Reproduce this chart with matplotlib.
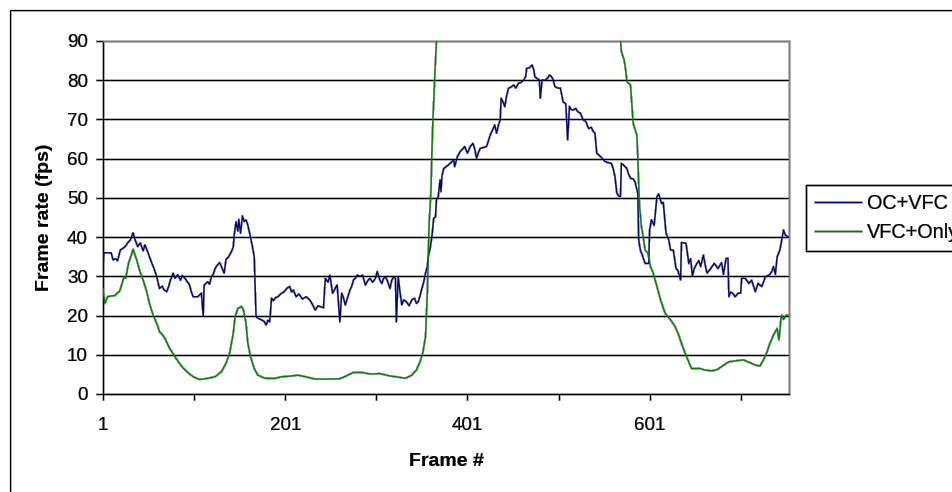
import numpy as np
import matplotlib
matplotlib.use("Agg")
import matplotlib.pyplot as plt
from matplotlib.patches import Rectangle

plt.rcParams['font.family'] = ['Liberation Sans', 'DejaVu Sans']

# ---------------- data ----------------
oc_frames = [1, 2, 10, 12, 15, 17, 20, 25, 28, 31, 34, 36, 39, 42, 45, 47, 50, 52, 54, 57, 60, 63, 66, 68, 71, 73, 75, 78,
             80, 83, 86, 88, 91, 94, 96, 98, 100, 105, 109, 111, 112, 116, 118, 120, 122, 124, 127, 129, 131, 134, 136,
             139, 142, 144, 145, 147, 149, 150, 152, 154, 156, 158, 160, 162, 165, 167, 169, 172, 175, 178, 180, 182,
             184, 186, 188, 190, 193, 196, 200, 203, 206, 208, 210, 213, 216, 220, 224, 228, 231, 234, 237, 239, 243,
             245, 248, 250, 253, 256, 258, 261, 263, 265, 267, 270, 272, 274, 276, 278, 280, 283, 286, 289, 292, 294,
             297, 300, 302, 305, 307, 309, 311, 313, 316, 318, 320, 322, 323, 325, 327, 329, 331, 334, 337, 340, 343,
             345, 347, 349, 351, 353, 355, 357, 358, 360, 362, 364, 366, 367, 369, 371, 372, 373, 375, 378, 380, 383,
             386, 387, 390, 393, 396, 398, 400, 401, 404, 407, 409, 411, 413, 415, 418, 422, 424, 426, 429, 431, 433,
             435, 437, 438, 440, 442, 444, 446, 449, 452, 454, 457, 460, 463, 465, 466, 469, 472, 474, 475, 478, 480,
             481, 483, 486, 489, 491, 493, 495, 497, 500, 503, 506, 509, 511, 513, 515, 517, 520, 522, 525, 528, 531,
             534, 537, 539, 541, 543, 546, 549, 552, 555, 559, 561, 563, 565, 567, 569, 570, 573, 576, 578, 580, 583,
             585, 588, 589, 591, 593, 596, 600, 601, 603, 606, 609, 611, 614, 616, 619, 622, 624, 627, 630, 632, 635,
             636, 641, 644, 646, 648, 650, 653, 655, 657, 660, 662, 664, 668, 672, 676, 680, 682, 685, 687, 688, 690,
             692, 695, 698, 701, 702, 706, 710, 713, 717, 720, 724, 726, 728, 731, 733, 735, 737, 739, 741, 744, 746,
             748, 750, 753]
oc_fps = [31.6, 36.0, 36.0, 34.2, 34.5, 34.0, 36.7, 37.5, 38.5, 39.3, 41.1, 39.5, 37.6, 38.5, 36.5, 38.0, 36.3, 35.0,
          33.7, 32.0, 29.9, 26.9, 27.5, 26.5, 26.1, 27.4, 29.0, 30.8, 29.5, 30.4, 29.0, 30.2, 29.5, 28.5, 27.8, 26.0,
          24.8, 24.8, 25.7, 19.9, 27.8, 28.6, 28.0, 29.9, 30.5, 32.0, 33.0, 33.5, 32.5, 30.8, 34.3, 35.0, 36.3, 37.5,
          40.5, 43.9, 41.5, 44.5, 41.0, 45.4, 44.0, 44.4, 43.0, 41.0, 37.6, 35.0, 19.7, 19.2, 18.9, 18.5, 17.6, 18.8,
          18.4, 24.4, 23.8, 24.5, 24.8, 25.5, 26.1, 27.0, 27.4, 26.0, 26.5, 24.8, 25.5, 24.2, 24.8, 24.0, 22.8, 21.4,
          22.5, 22.3, 22.0, 29.5, 28.5, 30.3, 25.7, 27.0, 27.8, 18.4, 25.7, 24.5, 22.7, 25.0, 26.5, 27.5, 29.1, 29.5,
          30.3, 30.0, 30.3, 27.8, 29.0, 29.5, 28.5, 29.5, 31.2, 29.0, 28.2, 29.5, 29.9, 29.0, 26.9, 29.0, 29.9, 29.5,
          18.4, 29.9, 26.0, 22.7, 24.0, 23.5, 22.5, 24.0, 24.4, 23.1, 23.5, 25.0, 26.9, 28.5, 30.8, 32.5, 35.0, 37.0,
          40.1, 44.8, 45.2, 49.5, 50.3, 54.6, 51.6, 55.5, 57.5, 58.0, 58.4, 59.0, 59.7, 58.0, 60.5, 61.8, 62.5, 63.1,
          62.0, 61.4, 63.0, 63.9, 62.5, 60.1, 61.5, 62.6, 62.8, 63.1, 64.5, 66.0, 67.5, 68.6, 66.5, 68.5, 69.9, 75.4,
          74.5, 73.3, 76.0, 77.9, 78.3, 78.8, 78.0, 79.2, 79.5, 80.1, 81.0, 83.0, 83.2, 83.9, 82.5, 80.9, 80.3, 80.1,
          75.4, 80.1, 80.0, 80.5, 81.3, 81.0, 80.2, 78.4, 78.0, 78.0, 74.5, 74.0, 64.8, 73.3, 72.5, 72.4, 72.8, 72.0,
          71.6, 69.9, 69.5, 67.7, 68.0, 67.0, 66.5, 61.4, 60.8, 60.1, 59.3, 59.0, 58.8, 57.5, 55.4, 51.2, 50.5, 50.3,
          58.8, 58.2, 57.5, 56.0, 55.0, 54.8, 54.1, 51.2, 39.3, 36.5, 35.4, 33.3, 33.3, 41.8, 44.4, 43.0, 50.3, 51.0,
          48.6, 48.8, 41.0, 39.3, 36.7, 36.7, 32.0, 31.5, 29.1, 38.6, 38.4, 33.3, 34.5, 30.1, 32.0, 33.3, 34.0, 32.5,
          35.4, 33.0, 30.8, 32.0, 33.3, 32.0, 33.5, 30.5, 34.6, 34.6, 24.8, 26.0, 25.7, 24.8, 25.7, 25.7, 29.5, 29.5,
          28.2, 29.0, 26.1, 28.2, 27.4, 28.5, 29.9, 30.2, 30.5, 31.2, 32.5, 30.5, 35.0, 36.7, 39.3, 41.8, 40.5, 40.1]

vfc_frames = [1, 3, 6, 10, 14, 17, 19, 21, 24, 26, 29, 32, 34, 36, 38, 41, 45, 49, 52, 56, 60, 63, 66, 69, 74, 80, 85,
              89, 93, 100, 107, 116, 124, 131, 136, 140, 142, 144, 146, 149, 153, 155, 158, 160, 163, 167, 171, 179,
              190, 197, 208, 215, 225, 234, 250, 261, 268, 276, 285, 294, 305, 316, 325, 333, 340, 345, 349, 352, 355,
              357, 358, 359, 361, 362, 363, 365, 367, 369, 567, 569, 570, 573, 575, 576, 580, 581, 583, 587, 588, 589,
              590, 592, 594, 596, 599, 602, 605, 609, 613, 618, 624, 629, 633, 636, 640, 644, 647, 656, 662, 669, 675,
              680, 688, 697, 704, 711, 717, 722, 726, 730, 733, 737, 741, 743, 745, 746, 748, 751, 753]
vfc_fps = [26.9, 23.1, 24.8, 25.0, 25.1, 25.8, 26.1, 27.4, 29.9, 29.5, 33.3, 35.4, 36.9, 35.5, 34.2, 31.6, 29.1, 26.1,
           23.1, 20.1, 18.0, 15.9, 15.2, 14.2, 11.7, 9.5, 7.8, 6.6, 5.7, 4.4, 3.7, 4.0, 4.4, 5.7, 7.8, 10.4, 12.9, 15.5,
           19.7, 21.8, 22.3, 21.5, 18.0, 12.9, 9.5, 6.5, 4.8, 4.0, 4.0, 4.4, 4.6, 4.8, 4.3, 3.8, 3.8, 3.9, 4.6, 5.5, 5.5,
           5.1, 5.2, 4.6, 4.3, 4.0, 4.8, 6.1, 8.2, 10.4, 14.6, 25.7, 35.0, 43.5, 52.0, 61.4, 69.0, 80.1, 90.3, 100.0,
           100.0, 90.3, 87.3, 85.2, 82.2, 79.6, 78.8, 75.4, 69.0, 66.0, 60.5, 53.7, 47.8, 42.7, 40.1, 36.7, 36.0, 32.5,
           30.8, 27.4, 24.0, 20.6, 18.9, 17.2, 15.0, 12.9, 10.4, 8.2, 6.5, 6.5, 6.1, 5.9, 6.2, 7.0, 8.2, 8.5, 8.7, 8.0,
           7.4, 7.1, 8.7, 10.8, 12.9, 15.0, 16.7, 13.8, 18.9, 20.1, 19.0, 20.1, 20.1]

series_names = ["OC+VFC", "VFC+Only"]
y_ticks = [0, 10, 20, 30, 40, 50, 60, 70, 80, 90]
x_ticks = [1, 101, 201, 301, 401, 501, 601, 701]
x_tick_labels = ["1", "", "201", "", "401", "", "601", ""]

# ---------------- figure ----------------
W, H = 953, 492
DPI = 100
BG = "#C0C0C0"
fig = plt.figure(figsize=(W / DPI, H / DPI), dpi=DPI, facecolor="white")

# chart-area border / background (drawn beneath the axes)
fig.patches.append(Rectangle((10 / W, -0.1), 1.2, 1 - 10 / H + 0.1, transform=fig.transFigure,
                             facecolor=BG, edgecolor="black", linewidth=0.9, zorder=-5))

ax = fig.add_axes([103 / W, 1 - 394 / H, 686 / W, 353 / H])
ax.set_facecolor(BG)

ax.plot(oc_frames, oc_fps, color="#000080", linewidth=1.0, label=series_names[0], zorder=3)
ax.plot(vfc_frames, vfc_fps, color="#008000", linewidth=1.0, label=series_names[1], zorder=3)

ax.set_xlim(1, 754)
ax.set_ylim(0, 90)
ax.set_yticks(y_ticks)
ax.set_yticklabels([str(v) for v in y_ticks])
ax.set_xticks(x_ticks)
ax.set_xticklabels(x_tick_labels)

ax.set_axisbelow(True)
ax.yaxis.grid(True, color="black", linewidth=0.8)
ax.xaxis.grid(False)

for s in ["left", "bottom"]:
    ax.spines[s].set_color("#000000")
    ax.spines[s].set_linewidth(0.9)
for s in ["top", "right"]:
    ax.spines[s].set_color("#808080")
    ax.spines[s].set_linewidth(0.9)

ax.tick_params(axis="y", direction="out", length=5, width=0.8, color="black",
               labelsize=13.5, pad=6)
ax.tick_params(axis="x", direction="out", length=4.5, width=0.8, color="black",
               labelsize=13.5, pad=12)

ax.set_xlabel("Frame #", fontsize=14, fontweight="bold", labelpad=14)
ax.set_ylabel("Frame rate (fps)", fontsize=14, fontweight="bold", labelpad=10)

leg = ax.legend(loc="upper left", bbox_to_anchor=(806 / W, 1 - 185 / H), bbox_transform=fig.transFigure,
                borderaxespad=0, frameon=True, fancybox=False, fontsize=14.3,
                handlelength=2.3, handletextpad=0.3, borderpad=0.45, labelspacing=0.5)
frame = leg.get_frame()
frame.set_edgecolor("black")
frame.set_facecolor(BG)
frame.set_linewidth(0.9)
frame.set_alpha(1)

fig.savefig("out.png", dpi=DPI, facecolor="white")

# the reference keeps its grey chart area as transparent pixels: do the same
img = plt.imread("out.png")
rgb = np.round(img[..., :3] * 255).astype(np.uint8)
mask = np.all(rgb == 192, axis=-1)
alpha = np.where(mask, 0, 255).astype(np.uint8)
rgba = np.ascontiguousarray(np.dstack([rgb, alpha]))
plt.imsave("out.png", rgba)
